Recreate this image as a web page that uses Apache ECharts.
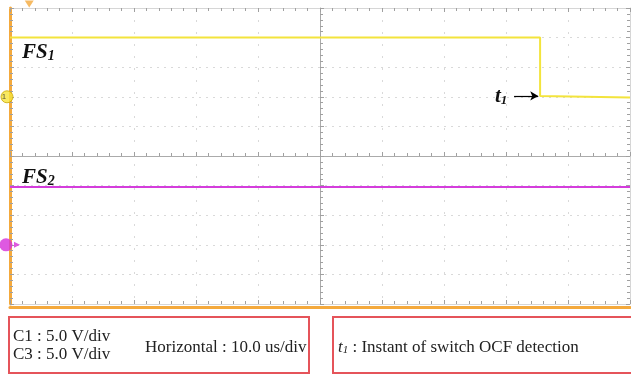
<!DOCTYPE html>
<html>
<head>
<meta charset="utf-8">
<script src="https://cdn.jsdelivr.net/npm/echarts@6/dist/echarts.min.js"></script>
<style>
html, body { margin: 0; padding: 0; background: #fff; }
#scope { width: 631px; height: 375px; }
</style>
</head>
<body>
<div id="scope"></div>
<script>
// time in us (10 us/div), level in divisions from screen centre
var fs1Time = [0, 85.5, 85.5, 100];
var fs1Div = [4.0, 4.0, 2.03, 1.98];
var fs2Time = [0, 100];
var fs2Div = [-1.05, -1.05];
// channel ground markers (left edge) and trigger position (top edge)
var ch1Ref = [0, 2.0];
var ch3Ref = [0, -3.0];
var trigPos = [3.1, 5];
// t1 arrow
var t1Arrow = [[81.3, 2.03], [85.2, 2.03]];

var textScale = 'C1 : 5.0 V/div';
var textScale3 = 'C3 : 5.0 V/div';
var textHoriz = 'Horizontal : 10.0 us/div';
var textT1 = ' : Instant of switch OCF detection';

function zip(a, b) {
	var res = [];
	for (var i = 0; i < a.length; i++) res.push([a[i], b[i]]);
	return res;
}

var myChart = echarts.init(document.getElementById('scope'));
var gridGray = '#d9d9d9';
var tickGray = '#a0a0a0';
var serif = '"Liberation Serif", "DejaVu Serif", serif';

function edgeX(pos, extra) {
	var ax = {
		type: 'value', min: 0, max: 100, interval: 10, position: pos,
		axisLabel: { show: false },
		axisLine: { onZero: false, lineStyle: { color: '#d6d6d6', width: 1 } },
		axisTick: { inside: true, length: 4, lineStyle: { color: tickGray } },
		minorTick: { show: true, splitNumber: 5, length: 3, lineStyle: { color: tickGray } },
		splitLine: { show: false }
	};
	for (var k in extra) ax[k] = extra[k];
	return ax;
}
function edgeY(pos, extra) {
	var ax = {
		type: 'value', min: -5, max: 5, interval: 1, position: pos,
		axisLabel: { show: false },
		axisLine: { onZero: false, lineStyle: { color: '#d6d6d6', width: 1 } },
		axisTick: { inside: true, length: 4, lineStyle: { color: tickGray } },
		minorTick: { show: true, splitNumber: 5, length: 3, lineStyle: { color: tickGray } },
		splitLine: { show: false }
	};
	for (var k in extra) ax[k] = extra[k];
	return ax;
}

var option = {
	backgroundColor: '#fff',
	animation: false,
	grid: { left: 10, right: 1, top: 8, bottom: 71 },
	xAxis: [
		edgeX('bottom', {
			splitLine: { show: true, lineStyle: { color: gridGray, type: [2, 10] } }
		}),
		edgeX('top', {}),
		// centre horizontal line
		edgeX('bottom', {
			axisLine: { onZero: true, onZeroAxisIndex: 0, lineStyle: { color: '#ababab', width: 1 } },
			axisTick: { show: true, length: 4, inside: true, lineStyle: { color: tickGray } },
			minorTick: { show: true, splitNumber: 5, length: 3, lineStyle: { color: tickGray } }
		}),
		// orange bottom frame
		edgeX('bottom', {
			offset: 3,
			axisLine: { onZero: false, lineStyle: { color: '#f4a93c', width: 3 } },
			axisTick: { show: false },
			minorTick: { show: false }
		})
	],
	yAxis: [
		edgeY('left', {
			axisLine: { onZero: false, lineStyle: { color: '#f4a93c', width: 3 } },
			splitLine: { show: true, lineStyle: { color: gridGray, type: [2, 5] } }
		}),
		edgeY('right', {}),
		// centre vertical line
		edgeY('left', {
			offset: -310,
			axisLine: { onZero: false, lineStyle: { color: '#ababab', width: 1 } }
		})
	],
	series: [
		{
			name: 'FS1', type: 'line', xAxisIndex: 0, yAxisIndex: 0,
			data: zip(fs1Time, fs1Div), symbol: 'none',
			lineStyle: { color: '#f3e43c', width: 2 },
			markLine: {
				silent: true, symbol: ['none', 'arrow'], symbolSize: [7, 8],
				lineStyle: { color: '#000', width: 1.2, type: 'solid' },
				label: { show: false },
				data: [[{ coord: t1Arrow[0] }, { coord: t1Arrow[1] }]]
			}
		},
		{
			name: 'FS2', type: 'line', xAxisIndex: 0, yAxisIndex: 0,
			data: zip(fs2Time, fs2Div), symbol: 'none',
			lineStyle: { color: '#d43ddc', width: 2 }
		},
		{
			name: 'ch1', type: 'scatter', clip: false, z: 5,
			data: [ch1Ref], symbol: 'circle', symbolSize: 12, symbolOffset: [-3, 0],
			itemStyle: { color: '#f7e43a', borderColor: '#c9a800', borderWidth: 1 },
			label: { show: true, position: 'inside', offset: [-3, 0], formatter: '1', fontSize: 8, color: '#333' }
		},
		{
			name: 'ch3', type: 'scatter', clip: false, z: 5,
			data: [ch3Ref], symbol: 'circle', symbolSize: 13, symbolOffset: [-4, 0],
			itemStyle: { color: '#d62fd9' }
		},
		{
			name: 'ch3arrow', type: 'scatter', clip: false, z: 5,
			data: [ch3Ref], symbol: 'triangle', symbolRotate: -90, symbolSize: [6, 6], symbolOffset: [7, 0],
			itemStyle: { color: '#d62fd9' }
		},
		{
			name: 'trig', type: 'scatter', clip: false, z: 5,
			data: [trigPos], symbol: 'triangle', symbolRotate: 180, symbolSize: [9, 7], symbolOffset: [0, -4],
			itemStyle: { color: '#f4a93c' }
		}
	],
	graphic: [
		{
			type: 'text', left: 22, top: 42,
			style: {
				text: '{a|FS}{b|1}',
				rich: {
					a: { fontFamily: serif, fontSize: 21, fontWeight: 'bold', fontStyle: 'italic', fill: '#111' },
					b: { fontFamily: serif, fontSize: 14, fontWeight: 'bold', fontStyle: 'italic', fill: '#111', padding: [8, 0, 0, 0] }
				}
			}
		},
		{
			type: 'text', left: 22, top: 167,
			style: {
				text: '{a|FS}{b|2}',
				rich: {
					a: { fontFamily: serif, fontSize: 21, fontWeight: 'bold', fontStyle: 'italic', fill: '#111' },
					b: { fontFamily: serif, fontSize: 14, fontWeight: 'bold', fontStyle: 'italic', fill: '#111', padding: [8, 0, 0, 0] }
				}
			}
		},
		{
			type: 'text', left: 495, top: 86,
			style: {
				text: '{a|t}{b|1}',
				rich: {
					a: { fontFamily: serif, fontSize: 21, fontWeight: 'bold', fontStyle: 'italic', fill: '#111' },
					b: { fontFamily: serif, fontSize: 13, fontWeight: 'bold', fontStyle: 'italic', fill: '#111', padding: [8, 0, 0, 0] }
				}
			}
		},
		{
			type: 'rect', shape: { x: 9, y: 317, width: 300, height: 56 },
			style: { fill: '#fff', stroke: '#e5545a', lineWidth: 2 }
		},
		{
			type: 'rect', shape: { x: 333, y: 317, width: 300, height: 56 },
			style: { fill: '#fff', stroke: '#e5545a', lineWidth: 2 }
		},
		{
			type: 'text', left: 13, top: 328,
			style: { text: textScale, fontFamily: serif, fontSize: 17, fill: '#222' }
		},
		{
			type: 'text', left: 13, top: 346,
			style: { text: textScale3, fontFamily: serif, fontSize: 17, fill: '#222' }
		},
		{
			type: 'text', left: 145, top: 339,
			style: { text: textHoriz, fontFamily: serif, fontSize: 17, fill: '#222' }
		},
		{
			type: 'text', left: 338, top: 339,
			style: {
				text: '{a|t}{b|1}{c|' + textT1 + '}',
				rich: {
					a: { fontFamily: serif, fontSize: 17, fontStyle: 'italic', fill: '#222' },
					b: { fontFamily: serif, fontSize: 11, fontStyle: 'italic', fill: '#222', padding: [6, 0, 0, 0] },
					c: { fontFamily: serif, fontSize: 17, fill: '#222' }
				}
			}
		}
	]
};

myChart.setOption(option, true);
</script>
</body>
</html>
